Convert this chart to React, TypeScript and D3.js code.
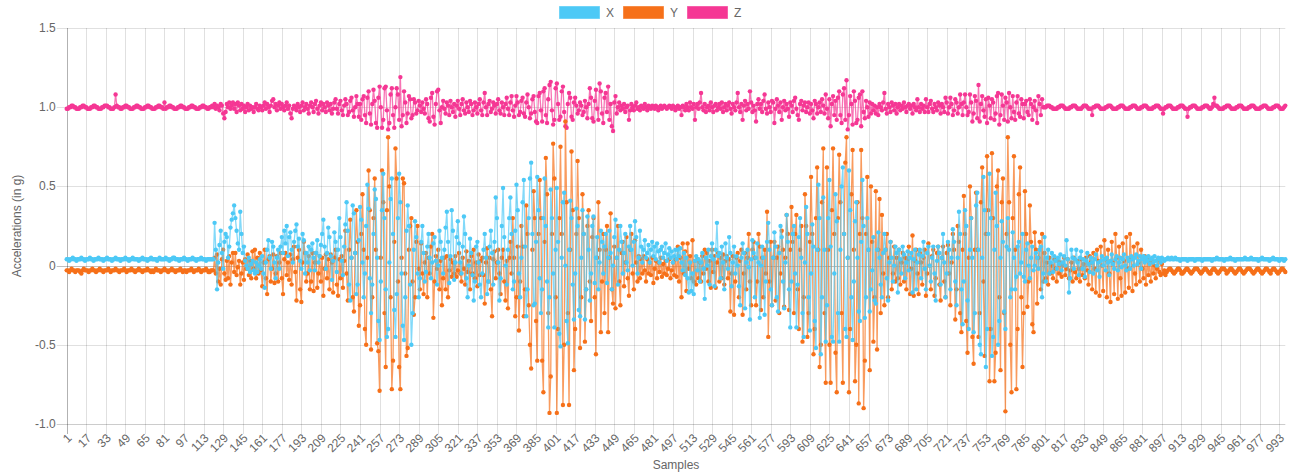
import React from 'react';
import * as d3 from 'd3';

// ---------- data ----------
const samples: number[] = d3.range(1, 999); // sample numbers 1..998

const seriesNames = ['X', 'Y', 'Z'];
const seriesColors = ['#4dc9f6', '#f67019', '#f53794'];

const yTickValues = [-1, -0.5, 0, 0.5, 1, 1.5];
const yTickLabels = ['-1.0', '-0.5', '0', '0.5', '1.0', '1.5'];

// X acceleration (g)
const accX: number[] = [
.04,.04,.03,.04,.04,.05,.04,.04,.03,.04,.04,.04,.05,.04,.04,.03,.04,.04,.04,.05,
.04,.04,.03,.04,.04,.04,.05,.04,.04,.04,.03,.04,.04,.05,.04,.04,.04,.03,.04,.04,
.05,.04,.04,.04,.03,.04,.04,.04,.05,.04,.04,.03,.04,.04,.05,.04,.04,.04,.04,.03,
.04,.04,.05,.04,.04,.04,.03,.04,.04,.05,.04,.04,.04,.04,.03,.04,.05,.04,.04,.04,
.04,.05,.04,.04,.03,.04,.04,.05,.05,.04,.04,.04,.03,.04,.04,.04,.05,.04,.04,.03,
.04,.04,.04,.05,.04,.04,.03,.04,.04,.04,.05,.04,.04,.04,.03,.04,.04,.04,.04,.04,
.04,.27,.10,-.15,.02,.13,.22,.08,-.02,.15,.20,.18,.05,.12,.24,.29,.33,.38,.30,.22,
.14,.10,.34,.20,.08,.12,.03,.00,-.02,.05,-.04,.01,.03,-.03,-.05,.02,-.04,.00,.04,-.02,
.06,-.05,-.14,.02,.10,.16,.05,-.02,.15,.12,.02,-.08,.05,.10,-.02,.12,.18,.08,.22,.14,
.25,.06,.18,.21,.10,.02,.15,.22,.26,.12,.17,.03,-.02,.20,.16,-.05,.08,.02,.12,-.03,
.10,.14,.05,-.03,.08,.16,.02,.06,.13,.20,.29,.12,-.02,.08,.24,.18,.06,-.09,.03,.21,
.15,-.04,.10,.30,.18,.03,-.06,.12,.26,.40,.22,-.12,-.22,.05,.38,.33,.08,-.18,-.12,.16,
.37,.29,.02,-.20,-.05,.25,.51,.36,-.08,-.30,-.12,.20,.48,.42,.05,-.35,-.47,-.10,.35,.58,
.30,-.15,-.45,-.40,.02,.42,.55,.20,-.28,-.45,-.18,.30,.58,.40,-.05,-.38,-.47,-.20,.22,.38,
.25,-.12,-.50,-.30,.10,.28,.18,-.05,-.20,-.08,.15,.25,.08,-.10,-.04,.12,.20,.05,-.08,.02,
.14,.18,.03,-.12,.00,.22,.15,.05,-.05,.10,.24,.34,.15,-.11,.06,.35,.22,-.09,.02,.18,
.28,.14,.02,-.05,.12,.31,.20,-.08,-.20,.00,.17,.08,-.06,-.22,-.10,.12,.15,.02,-.12,-.20,
-.05,.10,.20,.05,-.18,-.10,.12,.22,.08,-.12,.15,.43,.30,.02,-.22,-.08,.25,.49,.18,.00,
-.12,.10,.30,.43,.20,-.15,-.10,.22,.51,.35,-.05,-.20,.05,.40,.54,.12,-.32,-.15,.30,.55,
.65,.20,-.25,-.24,.15,.56,.35,-.08,-.30,-.15,.30,.55,.25,-.10,-.39,-.20,.48,.30,-.05,-.39,
.10,.49,.15,-.43,-.51,.05,.40,.46,.00,-.35,-.49,.10,.41,.30,-.12,-.34,-.05,.36,.25,-.28,
-.32,.05,.35,.20,-.34,-.15,.31,.10,-.22,-.05,.25,.31,-.11,.05,.18,-.15,.02,.22,.15,-.05,
.12,.20,-.11,.05,.22,.08,-.15,.00,.18,.29,.05,-.12,.10,.25,.15,-.05,.08,.20,.02,-.03,
.12,.25,.10,.00,.15,.28,.18,-.05,.05,.22,.12,.02,.10,.16,.05,.08,.13,.02,.10,.15,
.06,.12,.04,.14,.09,.02,.10,.12,.05,.08,.14,.03,.07,.11,.05,.09,.02,.06,.10,.04,
.10,.06,.11,.02,-.03,.08,-.06,.05,-.08,-.17,.02,-.16,-.05,-.18,.03,.06,-.03,.04,-.10,.02,
.08,-.02,-.21,.05,.00,.10,-.12,.06,.14,.04,-.13,.10,.27,.06,.08,-.08,.12,.02,-.15,.14,
.05,-.02,.18,.08,-.13,.02,.12,-.05,.06,.00,-.13,-.25,.05,.14,.08,-.27,.02,.10,-.01,-.34,
.04,.16,.08,-.20,.05,.14,.02,-.33,.00,.12,.05,-.31,-.10,.15,.27,.10,-.15,-.25,.05,.21,
.12,-.20,-.29,.08,.25,.18,-.10,-.27,.02,.32,.15,-.15,-.39,-.10,.20,.25,-.05,-.39,-.12,.18,
.30,.05,-.30,-.45,.02,.37,.20,-.20,-.41,-.05,.26,.12,-.35,-.52,.10,.51,.30,-.56,-.20,.43,
.10,-.48,-.25,.30,.54,.12,-.45,-.48,-.05,.45,.28,-.30,-.48,.10,.50,.62,.20,-.40,-.45,.05,
.60,.35,-.20,-.47,-.10,.28,.40,.05,-.29,-.35,.15,.54,.25,-.33,-.20,.30,.10,-.29,-.15,-.03,
.18,-.22,-.24,.10,.21,.05,-.12,-.20,.08,.20,.10,-.08,-.22,.02,.15,.05,-.10,.00,.12,.08,
-.17,.10,.04,-.05,.12,.07,-.08,.02,.09,-.03,.05,.08,-.17,.04,.10,-.15,.02,.07,.10,-.08,
.06,.15,-.02,-.15,.08,.12,.00,-.10,.05,.12,-.05,-.22,.03,.12,.08,-.12,.05,.20,.02,-.20,
-.05,.15,.10,-.15,.05,.23,.15,-.10,-.25,.05,.34,.20,-.15,-.37,-.10,.35,.25,-.22,-.40,.10,
.30,.05,-.42,-.30,.38,.46,.10,-.50,-.56,.05,.56,.35,-.64,-.40,.20,.58,.30,-.57,-.45,.10,
.46,.25,-.50,-.35,.05,.28,.15,-.29,-.40,.12,.30,.10,-.20,-.15,.21,.05,-.15,-.07,.12,.15,
-.05,.02,.20,-.07,-.10,.10,.14,.00,-.08,.05,.12,-.03,.00,.08,.05,-.02,.10,.12,-.20,-.05,
.18,-.10,.05,.10,-.05,.02,.08,-.04,.06,.03,-.02,.05,.01,.07,-.03,.02,.06,.00,.16,.04,
-.17,-.08,.10,.05,-.02,.04,.10,.02,-.06,.05,.09,-.02,.04,-.07,.03,.08,.01,-.04,.05,.02,
-.05,.04,.07,-.03,.02,-.07,.03,.06,.00,.04,-.03,.05,.02,-.06,.03,.07,.01,-.02,.04,.06,
-.03,.02,.05,-.01,.04,.07,.00,-.03,.05,.03,-.02,.06,.04,.00,.05,.07,.01,.03,.06,-.02,
.04,.06,.02,.05,.03,.06,.01,.04,.05,.02,.06,.03,.00,.05,.04,.02,.05,.04,.03,.04,
.04,.05,.04,.04,.05,.04,.04,.05,.04,.04,.04,.03,.04,.04,.04,.04,.04,.03,.04,.04,
.04,.04,.04,.03,.04,.04,.04,.04,.04,.03,.04,.04,.04,.04,.04,.04,.04,.03,.04,.04,
.04,.05,.04,.04,.04,.04,.04,.03,.04,.04,.04,.04,.05,.04,.04,.04,.03,.04,.04,.04,
.04,.04,.04,.04,.05,.04,.04,.04,.04,.05,.04,.04,.04,.04,.04,.03,.04,.04,.05,.04,
.04,.04,.04,.04,.03,.04,.04,.05,.04,.04,.04,.04,.03,.04,.04,.04,.03,.04
];

// Y acceleration (g)
const accY: number[] = [
-.03,-.03,-.04,-.03,-.02,-.03,-.03,-.04,-.03,-.03,-.03,-.04,-.05,-.03,-.02,-.03,-.03,-.03,-.04,-.03,
-.03,-.02,-.03,-.03,-.04,-.03,-.03,-.02,-.03,-.03,-.04,-.03,-.03,-.03,-.02,-.03,-.04,-.03,-.03,-.03,
-.02,-.03,-.03,-.04,-.03,-.03,-.03,-.02,-.03,-.04,-.03,-.03,-.03,-.02,-.03,-.03,-.04,-.03,-.03,-.02,
-.03,-.03,-.04,-.03,-.03,-.03,-.02,-.03,-.03,-.04,-.03,-.04,-.03,-.02,-.03,-.03,-.03,-.04,-.03,-.03,
-.02,-.03,-.03,-.04,-.03,-.03,-.02,-.03,-.03,-.04,-.03,-.03,-.03,-.02,-.03,-.04,-.03,-.03,-.04,-.03,
-.03,-.03,-.02,-.03,-.04,-.03,-.03,-.03,-.02,-.03,-.04,-.03,-.03,-.03,-.02,-.03,-.04,-.04,-.03,-.03,
-.03,.05,-.05,.07,-.10,-.02,-.12,.04,.10,-.05,-.09,.03,-.08,.06,-.12,.02,.08,-.04,.08,-.06,
-.01,.03,-.12,-.05,.02,-.09,.04,-.02,.07,-.06,.03,-.08,.09,-.02,.10,-.08,.05,-.05,.08,-.03,
-.13,.02,.10,-.08,-.18,.04,.06,-.10,-.02,.07,-.11,-.05,.06,-.10,.02,.08,-.08,-.18,.04,.08,
-.06,.02,-.09,.07,-.12,.04,.12,-.04,-.22,.05,.10,-.15,-.23,.02,.15,.08,-.10,-.05,.06,-.15,
-.10,.08,-.16,.02,.08,-.14,-.05,.06,-.10,.05,-.19,-.02,.07,-.08,.04,-.15,.07,.02,-.17,.05,
.10,-.12,-.19,.04,-.08,.06,-.14,.03,.22,-.05,-.22,.10,.29,.05,-.20,-.29,.08,.35,.15,-.38,
-.25,.20,.45,.10,-.40,-.50,.05,.60,.35,-.53,-.20,.30,.55,.10,-.49,-.54,-.79,.05,.60,.40,
-.30,-.64,.35,.81,.50,-.20,-.78,-.60,.15,.74,.55,-.10,-.64,-.78,.05,.55,.52,-.05,-.57,-.52,
.10,.25,.30,-.10,-.31,-.20,.15,.25,-.02,-.15,.14,-.05,-.18,.02,.08,-.20,.05,-.05,.12,.20,
-.33,-.10,.06,-.02,.10,-.15,.03,-.25,-.08,.05,-.15,.06,-.20,-.03,.04,-.07,.02,-.05,.06,-.07,
-.03,.08,-.05,-.10,.05,-.02,-.12,.09,-.04,.03,-.15,.06,-.05,.10,-.08,.02,-.13,.07,-.06,.03,
.05,-.06,-.24,.02,.11,-.10,.05,-.15,-.32,.04,.09,-.08,.02,.10,-.05,-.18,.05,.10,-.10,-.22,
.03,-.27,.05,.15,-.05,.30,.05,-.32,-.20,.12,-.41,-.10,.25,.12,-.32,-.15,.38,.20,-.25,-.50,
-.65,.10,.47,.30,-.35,-.60,.20,.54,.30,-.60,-.80,.15,.68,.45,-.30,-.93,-.70,.20,.77,.55,
-.20,-.93,-.40,.30,.75,.20,-.88,-.50,.91,.40,-.30,-.88,.10,.72,.35,-.66,-.40,.20,.66,.30,
-.52,-.20,.45,.20,-.48,-.15,.25,.35,-.10,-.35,.18,.30,-.20,-.56,.05,.40,.10,-.42,-.10,.20,
-.30,.10,.25,-.42,.05,.33,-.15,-.24,.12,-.27,.05,.25,-.10,-.25,.08,.15,-.13,.02,.18,-.08,
-.19,.10,.20,-.05,-.15,.16,.02,-.10,.06,-.08,.04,-.05,.06,-.03,-.10,.04,-.05,.02,-.06,.05,
-.11,-.02,.03,-.08,.02,-.04,.05,-.07,.01,-.05,.03,-.06,-.02,.04,-.08,-.03,.02,-.06,.04,-.07,
.12,-.10,.05,-.20,.14,-.05,.09,-.16,.14,-.02,.06,-.08,.16,-.10,.03,-.12,.04,-.08,.02,-.10,
.06,-.05,.10,-.02,.08,-.10,.03,-.14,.10,-.04,.06,-.14,.02,.08,-.10,.05,-.08,.07,-.12,.03,
.06,-.08,.04,-.29,-.05,.06,-.31,-.10,.05,.08,-.20,.03,.10,-.31,-.05,.08,-.15,.05,.20,-.10,
-.25,.10,.15,.05,-.25,-.10,.20,.12,-.28,.05,-.20,.10,-.05,.34,-.45,-.10,.15,-.25,.05,.15,
-.22,.05,.12,-.30,-.05,.22,.10,-.26,.05,.32,.20,-.28,.10,.37,.15,-.30,.20,.32,-.15,-.40,
.10,.25,-.48,-.20,.45,.25,-.45,-.30,.15,.56,.20,-.56,-.40,.30,.62,.10,-.64,-.50,.40,.74,
-.30,-.74,.62,.10,-.50,-.74,.35,.74,.20,-.55,-.80,.30,.70,.40,-.30,-.74,.20,.65,.81,.05,
-.80,-.40,.45,.73,.10,-.73,-.50,.40,-.87,.20,.73,.30,-.90,-.60,.20,.56,.10,-.66,.50,.15,
-.48,-.20,.47,-.53,.10,.42,-.30,.32,-.05,-.25,.10,.20,-.20,.05,.15,-.15,-.05,.12,-.10,.05,
-.08,.10,-.12,.02,.08,-.10,.05,-.15,.04,.12,-.18,-.02,.19,-.19,.03,.10,-.05,-.18,.08,.02,
-.12,.05,.10,-.19,-.05,.14,.00,-.15,.06,.10,-.19,-.08,.08,.12,-.12,-.22,.05,.12,-.10,-.20,
.08,.13,-.05,-.25,.02,.20,.10,-.34,-.15,.25,.15,-.30,-.42,.10,.44,.20,-.35,-.55,.05,.50,
.30,-.45,-.62,.10,.46,.10,-.45,-.30,.40,.62,-.10,-.57,.20,.69,.35,-.73,-.40,.71,.30,-.73,
-.55,.50,.60,-.20,-.66,.40,.55,-.30,-.92,.20,.81,.40,-.50,-.80,.30,.69,.10,-.78,-.40,.45,
.62,-.20,-.64,-.30,.47,.20,-.26,-.10,.38,.15,-.37,-.42,.21,.10,-.24,.05,.15,-.15,.20,-.10,
.08,-.08,.02,-.12,.05,-.05,.00,-.08,.04,-.02,-.10,.03,-.05,.02,-.07,.00,.05,-.06,-.02,.04,
-.08,-.03,.02,-.10,.05,-.04,-.08,.03,-.02,-.10,.04,-.06,.01,-.08,.05,-.03,-.12,.06,.02,-.15,
.08,-.02,-.17,.10,.03,-.19,.12,.00,-.16,.16,.04,-.20,.10,-.05,-.23,.15,.02,-.18,.20,.05,
-.21,.12,-.08,-.19,.14,.03,-.17,.18,-.02,-.14,.20,.05,-.16,.12,-.05,-.12,.14,.02,-.10,.10,
-.02,-.08,.06,-.12,.04,-.06,.02,-.10,.03,-.05,.00,-.08,-.02,.04,-.04,-.06,.01,-.05,-.03,-.06,
-.04,-.03,-.02,-.02,-.03,-.04,-.05,-.04,-.03,-.02,-.02,-.03,-.05,-.05,-.04,-.03,-.02,-.02,-.03,-.04,
-.05,-.04,-.03,-.02,-.02,-.02,-.03,-.04,-.05,-.04,-.03,-.02,-.02,-.03,-.04,-.05,-.05,-.03,-.02,-.02,
-.03,-.04,-.05,-.04,-.03,-.02,-.02,-.02,-.03,-.05,-.04,-.03,-.02,-.02,-.03,-.04,-.05,-.04,-.03,-.02,
-.02,-.03,-.04,-.05,-.04,-.03,-.02,-.02,-.02,-.03,-.04,-.05,-.04,-.03,-.02,-.02,-.03,-.04,-.05,-.04,
-.03,-.02,-.02,-.03,-.04,-.05,-.03,-.02,-.02,-.03,-.04,-.05,-.04,-.03,-.02,-.02,-.03,-.04
];

// Z acceleration (g)
const accZ: number[] = [
.99,.99,1,1,1.01,1.01,1,1,.99,.99,.99,1,1,1.01,1.01,1,1,.99,.99,.99,
1,1,1.01,1.01,1,1,.99,.99,.99,1,1,1.01,1.01,1.01,1,1,.99,.99,.99,1,
1.08,1.01,1,1,.99,.99,1,1,1.01,1.01,1,1,.99,.99,.99,1,1,1.01,1.01,1,
1,.99,.99,.99,1,1,1.01,1.01,1,1,.99,.99,.99,1,1,1.01,1.01,1,1,.99,
1.03,.99,1,1,1.01,1.01,1,1,.99,.99,.99,1,1,1.01,1.01,1,1,.99,.99,.99,
1,1,1.01,1.01,1,1,.99,.99,.99,1,1,1.01,1.01,1,1,.99,.99,1,1,1.01,
1,1.02,.99,1.01,1,.98,1.02,1.01,.96,.93,.97,1.02,1,1.03,.99,1.01,1.03,.99,1.02,.97,
1.03,1.01,.98,1.02,.99,1.01,.97,1,1.02,.98,1.01,.99,1,.97,1,1.02,.99,.98,1.01,1,
.98,1.01,1.03,.99,1.02,1,.97,1.01,1.04,1.05,1,1.02,.98,1.01,1.03,.99,1.02,1,.98,1.01,
1.03,.99,1.01,.96,.93,.99,1.01,1,.98,1.02,1,.97,1.01,1.03,.98,1,1.02,.99,.96,1.01,
1.03,1,.97,1.02,1.04,.99,.96,1.01,1.03,.98,1.02,1,.97,1.03,1.01,.98,1.02,.96,.99,1.03,
1.05,.99,.96,1.02,1.04,.98,.95,1.01,1.05,1.02,.95,.97,1.04,1.06,.98,.94,1,1.07,1.02,.94,
1.02,.92,1.05,1.07,.95,.90,1.06,1.10,.96,.89,1.02,1.11,1.04,.90,.87,1.06,1.13,1,.87,.92,
1.12,1.13,.98,.86,.90,1.08,1.12,.95,.87,1,1.12,1.08,.92,1.19,.88,.95,1.10,1.03,.90,.96,
1.07,1.05,.93,.95,1.05,1.03,.96,.98,1.04,1.01,.97,1.03,.99,.96,1.05,1.02,.93,.91,1.06,1.09,
.94,.89,1.02,1.10,1.11,.98,.90,1,1.04,.99,.96,1.03,1.01,.95,1.04,1,.97,1.02,.94,1.01,
1.04,.99,.95,1.02,1.05,.98,.96,1.03,1,.97,1.04,1.02,.95,.98,1.03,1,.96,1.02,1.05,.98,
.95,1.03,1.09,1,.95,1.02,1.04,.97,.99,1.03,1.01,.96,1.02,1.05,.98,.96,1.03,1,.95,1.02,
1.06,.99,.95,1.03,1.07,.98,.94,1.01,1.07,1.03,.95,.97,1.04,1.06,.96,.94,1.03,1.08,1,.93,
.96,1.05,1.07,.97,.91,.90,1.07,1.09,.98,.91,1.10,1.12,.95,.90,1.05,1.14,1.16,.98,.89,.92,
1.12,1.15,1.02,.92,.94,1.10,1.13,.97,.88,.87,1.02,1.09,1.06,.94,.92,1.03,1.06,1.01,.96,.98,
1.03,1.01,.95,.97,1.04,1,.93,1.02,1.12,1.06,.93,.91,1.04,1.11,.99,.92,1.15,1.10,.96,.90,
1.06,1.09,.97,1.13,.92,1.02,.88,.85,1.03,1.07,.96,1,1.03,.98,1.01,.99,1.02,.97,1,1.01,
.92,.98,1.02,1,.98,1.01,1.03,.99,1,.98,1.01,1,.99,1.02,1,.98,1.01,1,.99,1.01,
1,.99,1.01,1,.98,1,1.01,.99,1,1.01,1,.99,1,1.01,1,.99,1.01,1,.98,1,
1.01,.99,1,.95,1.01,1,.98,1.02,1,.98,1.03,1,.99,1.02,.92,1,1.02,.99,1.03,1.09,
1,.98,1.02,.97,1,1.01,.98,1.03,1,.97,1.01,1.02,.98,1,1.02,.99,1.03,.97,1,1.02,
.98,1.01,1.03,.99,.96,1.02,1,.98,1.03,1.09,1,.97,1.02,.92,1.01,1.04,.98,1.02,.99,1.10,
1.03,.97,1.01,.98,.91,1.02,1.05,.99,1.02,.97,1.04,1.08,.99,.96,1.03,1,.97,1.04,1.03,.90,
.99,1.05,1.01,.97,1.03,.92,1,1.04,.98,1.02,.99,.94,1.03,1.01,.97,1.04,1.06,.99,.95,.92,
1.02,1.04,.98,1.01,1.03,.97,1,1.03,.96,1.02,.98,.93,1.04,1.02,.96,1,1.03,.97,1.05,1.01,
.96,1.08,.99,.93,1.05,.88,1.02,1.07,.95,1.04,.92,1.06,1.10,.95,.90,1.08,1.12,.92,1.17,.86,
.95,1.07,1.02,.89,1.10,1.04,.90,.92,1.06,1.08,.88,1.10,.97,.93,1.04,1,.94,1.03,.96,1.02,
.98,1.01,.96,1,.95,1.02,1,.98,1.03,1.09,.99,.96,1.02,1,.97,1.03,1.01,.98,1.02,.96,
1,1.02,.98,1.01,.99,1.03,1,.97,1.01,1.02,.99,1.01,.96,1.02,1,.98,1.05,1,.97,1.02,
.99,1.01,.97,1.05,1,.97,1.02,1.04,.99,.97,1.02,1,.98,1.03,1.01,.96,1.02,1,.97,1.06,
1.03,.96,1,1.06,1.02,.95,.98,1.05,1.03,.96,1,1.08,1.02,.95,1.03,1.08,1,.95,.97,1.08,
1.03,.91,.96,1.07,1.04,.93,1.14,.91,1.02,1.07,.98,.94,1.05,.90,1.06,1.01,.93,1.05,1.03,.92,
.96,1.07,1.09,.89,.95,1.08,1.01,.92,1.06,1.03,.91,1.09,1,.93,1.07,.97,.92,1.03,1.07,.96,
.94,1.05,1.02,.93,1.02,1.04,.97,.95,1.05,1.02,.92,1,1.04,.98,.90,1.07,1.02,.95,1.05,1,
1,1,1.01,1.01,1.01,1,1,.99,.99,.99,.99,1,1,1.01,1.01,1.01,1,.99,.99,.99,
.99,1,1,1.01,1.01,1.01,1,.99,.99,.99,.99,1,1.01,1.01,1.01,1,.99,.99,.99,.95,
1,1,1.01,1.01,1.01,1,.99,.99,.99,.99,1,1,1.01,1.01,1.01,1,.99,.99,.99,.99,
1,1,1.01,1.01,1.01,1,.99,.99,.99,.99,1,1,1.01,1.01,1.01,1,.99,.99,.99,1,
1,1.01,1.01,1.01,1,.99,.99,.99,.99,1,1,1.01,1.01,1.01,1,.99,.99,.96,.99,1,
1,1.01,1.01,1.01,1,.99,.99,.99,.99,1,1,1.01,1.01,1.01,1,.99,.99,.94,.99,1,
1,1.01,1.01,1.01,1,.99,.99,.99,.99,1,1,1.01,1.01,1.01,1,.99,.99,1,1.02,1.06,
1.01,1.01,1,.99,.99,.99,.99,1,1,1.01,1.01,1.01,1,.99,.99,.99,.99,1,1,1.01,
1.01,1.01,1,.99,.99,.99,.99,1,1,1.01,1.01,1.01,1,.99,.99,.99,.99,1,1,1.01,
1.01,1.01,1,.99,.99,.99,.99,1,1,1.01,1.01,1.01,1,.99,.99,.99,1,1.01
];

const seriesValues = [accX, accY, accZ];

// ---------- layout ----------
const W = 1298;
const H = 473;
const plotLeft = 66.7;
const plotRight = 1285.3;
const plotTop = 28;
const plotBottom = 424;
const FONT = '"Liberation Sans", Arial, Helvetica, sans-serif';
const TEXT = '#666';

export default function App() {
  const x = d3.scaleLinear().domain([1, samples.length]).range([plotLeft, plotRight]);
  const y = d3.scaleLinear().domain([-1, 1.5]).range([plotBottom, plotTop]);
  const xTicks = samples.filter((s) => (s - 1) % 16 === 0);

  const line = (vals: number[]) =>
    d3
      .line<number>()
      .x((_, i) => x(samples[i]))
      .y((v) => y(v))(vals.slice(0, samples.length)) || '';

  const drawOrder = [2, 1, 0];

  return (
    <div style={{ position: 'absolute', left: 0, top: 0, width: W, height: H, background: '#fff' }}>
      <svg width={W} height={H} style={{ display: 'block' }} fontFamily={FONT}>
        {/* horizontal grid */}
        {yTickValues.map((v, i) => (
          <g key={'yg' + i}>
            <line
              x1={plotLeft - 10}
              x2={plotRight}
              y1={Math.round(y(v)) + 0.5}
              y2={Math.round(y(v)) + 0.5}
              stroke={v === 0 ? 'rgba(0,0,0,0.25)' : v === -1 ? 'rgba(0,0,0,0.2)' : 'rgba(0,0,0,0.12)'}
              strokeWidth={1}
            />
            <text
              x={plotLeft - 11}
              y={y(v)}
              textAnchor="end"
              dominantBaseline="central"
              fontSize={12}
              fill={TEXT}
            >
              {yTickLabels[i]}
            </text>
          </g>
        ))}
        {/* vertical grid + x labels */}
        {xTicks.map((s, i) => {
          const px = Math.round(x(s)) + 0.5;
          return (
            <g key={'xg' + s}>
              <line
                x1={px}
                x2={px}
                y1={plotTop}
                y2={plotBottom + 10}
                stroke={i === 0 ? 'rgba(0,0,0,0.3)' : 'rgba(0,0,0,0.12)'}
                strokeWidth={1}
              />
              <text
                transform={`translate(${x(s) + 3},${plotBottom + 12}) rotate(-45)`}
                textAnchor="end"
                dominantBaseline="central"
                fontSize={12}
                fill={TEXT}
              >
                {String(s)}
              </text>
            </g>
          );
        })}

        {/* series */}
        {drawOrder.map((k) => (
          <g key={'s' + k}>
            <path d={line(seriesValues[k])} fill="none" stroke={seriesColors[k]} strokeOpacity={0.7} strokeWidth={1.3} />
            {seriesValues[k].slice(0, samples.length).map((v, i) => (
              <circle key={i} cx={x(samples[i])} cy={y(v)} r={2.2} fill={seriesColors[k]} />
            ))}
          </g>
        ))}

        {/* axis titles */}
        <text
          transform={`translate(17,${(plotTop + plotBottom) / 2}) rotate(-90)`}
          textAnchor="middle"
          dominantBaseline="central"
          fontSize={12}
          fill={TEXT}
        >
          Accelerations (in g)
        </text>
        <text x={(plotLeft + plotRight) / 2} y={465} textAnchor="middle" dominantBaseline="central" fontSize={12} fill={TEXT}>
          Samples
        </text>

        {/* legend */}
        {seriesNames.map((n, i) => {
          const bx = 559 + i * 64;
          return (
            <g key={'lg' + n}>
              <rect x={bx + 0.5} y={6.5} width={40} height={12} fill={seriesColors[i]} stroke={seriesColors[i]} strokeOpacity={0.6} />
              <text x={bx + 47} y={13} dominantBaseline="central" fontSize={12} fill={TEXT}>
                {n}
              </text>
            </g>
          );
        })}
      </svg>
    </div>
  );
}
